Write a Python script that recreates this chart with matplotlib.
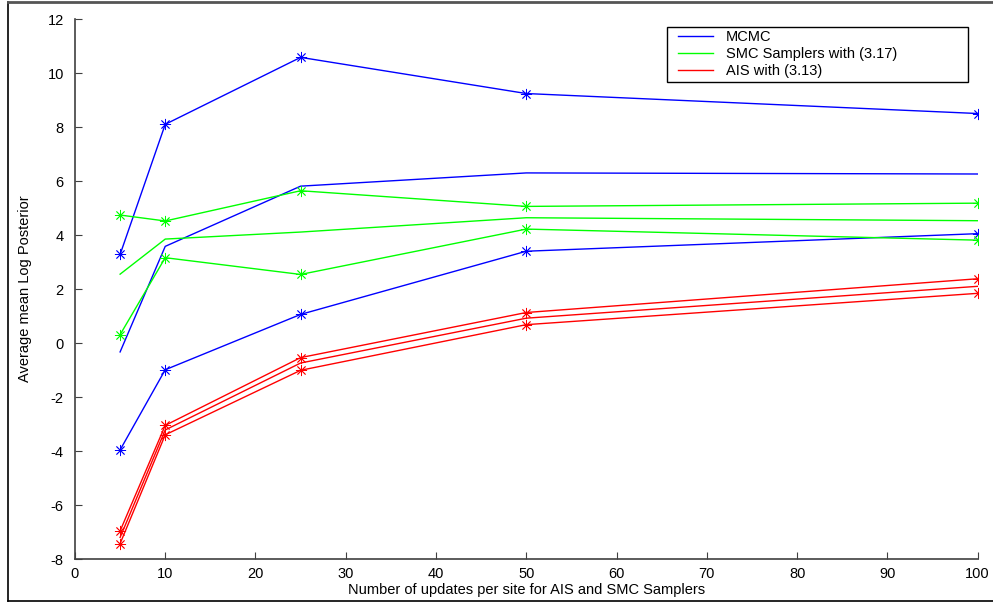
import matplotlib
matplotlib.use("Agg")
import matplotlib.pyplot as plt
from matplotlib.lines import Line2D
from matplotlib.patches import Rectangle

plt.rcParams["font.family"] = ["Liberation Sans", "DejaVu Sans"]
plt.rcParams["font.size"] = 10.5
plt.rcParams["axes.unicode_minus"] = False

# number of updates per site
updates = [5, 10, 25, 50, 100]

# MCMC: upper / mean / lower
mcmc_upper = [3.28, 8.10, 10.58, 9.24, 8.50]
mcmc_mean = [-0.33, 3.58, 5.81, 6.30, 6.26]
mcmc_lower = [-3.96, -0.99, 1.06, 3.40, 4.05]

# SMC samplers with (3.17)
smc_upper = [4.74, 4.52, 5.64, 5.06, 5.18]
smc_mean = [2.55, 3.85, 4.11, 4.64, 4.53]
smc_lower = [0.31, 3.16, 2.54, 4.22, 3.81]

# AIS with (3.13)
ais_upper = [-6.96, -3.05, -0.54, 1.13, 2.38]
ais_mean = [-7.20, -3.22, -0.74, 0.92, 2.10]
ais_lower = [-7.43, -3.40, -1.01, 0.68, 1.84]

BLUE, GREEN, RED = "#0000ff", "#00ff00", "#ff0000"

fig = plt.figure(figsize=(9.93, 6.02), dpi=100)
ax = fig.add_axes([0.0755, 0.0714, 0.909, 0.897])

ax.plot(updates, mcmc_mean, color=BLUE, lw=1.0, label="MCMC")
ax.plot(updates, smc_mean, color=GREEN, lw=1.0, label="SMC Samplers with (3.17)")
ax.plot(updates, ais_mean, color=RED, lw=1.0, label="AIS with (3.13)")

# bounds drawn with MATLAB-style '*' markers
for series, c in [(mcmc_upper, BLUE), (mcmc_lower, BLUE),
                  (smc_upper, GREEN), (smc_lower, GREEN),
                  (ais_upper, RED), (ais_lower, RED)]:
    ax.plot(updates, series, color=c, lw=1.0, marker=(8, 2, 0),
            markersize=8, markeredgewidth=0.6, markeredgecolor=c)

ax.set_xlim(0, 100)
ax.set_ylim(-8, 12)
ax.set_xticks(range(0, 101, 10))
ax.set_yticks(range(-8, 13, 2))
ax.tick_params(direction="in", length=5, width=0.8, color="#404040")
ax.tick_params(axis="y", pad=8)
ax.tick_params(axis="x", pad=6)

for side in ("top", "right"):
    ax.spines[side].set_visible(False)
for side in ("left", "bottom"):
    ax.spines[side].set_color("#404040")
    ax.spines[side].set_linewidth(1.2)

ax.set_xlabel("Number of updates per site for AIS and SMC Samplers", labelpad=1)
ax.set_ylabel("Average mean Log Posterior", labelpad=11)

W, H = 993, 602
leg = ax.legend(loc="upper left", bbox_to_anchor=(0.663, 0.988),
                borderaxespad=0, frameon=False, handlelength=2.4,
                borderpad=0.3, labelspacing=0.2, handletextpad=0.9)
# legend box with generous right margin
fig.add_artist(Rectangle((667 / W, 1 - 82 / H), 301 / W, 55 / H,
                         transform=fig.transFigure, fill=False,
                         edgecolor="black", lw=1.0))

# outer frame around the figure
fig.add_artist(Line2D([8 / W, 8 / W], [1 - 601 / H, 1 - 2 / H],
                      transform=fig.transFigure, color="black", lw=1.2))
fig.add_artist(Line2D([8 / W, 1], [1 - 2 / H, 1 - 2 / H],
                      transform=fig.transFigure, color="#555555", lw=2.0))
fig.add_artist(Line2D([8 / W, 1], [1 - 601 / H, 1 - 601 / H],
                      transform=fig.transFigure, color="black", lw=1.2))

fig.savefig("out.png", dpi=100)
